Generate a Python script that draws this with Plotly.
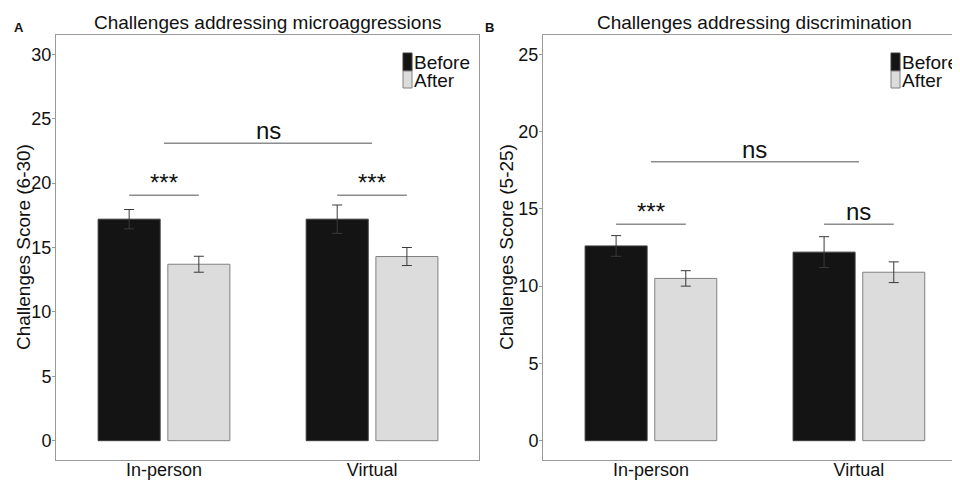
import plotly.graph_objects as go

# ---------------- data ----------------
conditions = ["In-person", "Virtual"]
groups = ["Before", "After"]

micro_before = [17.2, 17.2]
micro_before_err = [0.75, 1.1]
micro_after = [13.7, 14.3]
micro_after_err = [0.62, 0.7]

disc_before = [12.6, 12.2]
disc_before_err = [0.67, 1.0]
disc_after = [10.5, 10.9]
disc_after_err = [0.5, 0.67]

micro_pair_sig = ["***", "***"]
micro_pair_y = [19.05, 19.05]
micro_between_sig = "ns"
micro_between_y = 23.1

disc_pair_sig = ["***", "ns"]
disc_pair_y = [14.0, 14.0]
disc_between_sig = "ns"
disc_between_y = 18.05

micro_ticks = [0, 5, 10, 15, 20, 25, 30]
disc_ticks = [0, 5, 10, 15, 20, 25]

titles = ["Challenges addressing microaggressions", "Challenges addressing discrimination"]
ytitles = ["Challenges Score (6-30)", "Challenges Score (5-25)"]
panel_labels = ["A", "B"]

# ---------------- style ----------------
# the page body has an 8px default margin, so the figure is placed at (8, 8)
OFF = 8
W, H = 960 - OFF, 480 - OFF
FONT = "Liberation Sans, Arial, sans-serif"
BEFORE_FILL, BEFORE_LINE = "#141414", "#3c3c3c"
AFTER_FILL, AFTER_LINE = "#dcdcdc", "#808080"
ERR_COLOR = "#3a3a3a"
SIG_COLOR = "#8c8c8c"
AXIS_COLOR = "#9a9a9a"
BARGAP = 0.33
BARGROUPGAP = 0.11
half_off = (1 - BARGAP) / 4


def px(x):
    return (x - OFF) / W


def py(y):
    return 1 - (y - OFF) / H


fig = go.Figure()

panels = [
    dict(before=micro_before, be=micro_before_err, after=micro_after, ae=micro_after_err,
         xa="x", ya="y", pair_sig=micro_pair_sig, pair_y=micro_pair_y,
         bsig=micro_between_sig, by=micro_between_y),
    dict(before=disc_before, be=disc_before_err, after=disc_after, ae=disc_after_err,
         xa="x2", ya="y2", pair_sig=disc_pair_sig, pair_y=disc_pair_y,
         bsig=disc_between_sig, by=disc_between_y),
]

shapes = []
annotations = []

for p in panels:
    fig.add_trace(go.Bar(
        x=conditions, y=p["before"], name=groups[0], xaxis=p["xa"], yaxis=p["ya"],
        marker=dict(color=BEFORE_FILL, line=dict(color=BEFORE_LINE, width=1)),
        error_y=dict(type="data", array=p["be"], color=ERR_COLOR, thickness=1, width=5),
        showlegend=False, hoverinfo="skip"))
    fig.add_trace(go.Bar(
        x=conditions, y=p["after"], name=groups[1], xaxis=p["xa"], yaxis=p["ya"],
        marker=dict(color=AFTER_FILL, line=dict(color=AFTER_LINE, width=1)),
        error_y=dict(type="data", array=p["ae"], color=ERR_COLOR, thickness=1, width=5),
        showlegend=False, hoverinfo="skip"))

    # within-condition significance brackets
    for i, (lab, yv) in enumerate(zip(p["pair_sig"], p["pair_y"])):
        shapes.append(dict(type="line", xref=p["xa"], yref=p["ya"],
                           x0=i - half_off, x1=i + half_off, y0=yv, y1=yv,
                           line=dict(color=SIG_COLOR, width=1.5)))
        annotations.append(dict(text=lab, xref=p["xa"], yref=p["ya"], x=i, y=yv,
                                xanchor="center", yanchor="bottom", yshift=-3,
                                showarrow=False, font=dict(size=24, color="#111", family=FONT)))
    # between-condition bracket
    shapes.append(dict(type="line", xref=p["xa"], yref=p["ya"],
                       x0=0, x1=len(conditions) - 1, y0=p["by"], y1=p["by"],
                       line=dict(color=SIG_COLOR, width=1.5)))
    annotations.append(dict(text=p["bsig"], xref=p["xa"], yref=p["ya"],
                            x=(len(conditions) - 1) / 2, y=p["by"],
                            xanchor="center", yanchor="bottom", yshift=-3,
                            showarrow=False, font=dict(size=24, color="#111", family=FONT)))

# panel geometry (pixels in the 960x480 view)
dom_x = [(56, 479), (543, 960)]
dom_y = (35, 460)
title_cx = [267.5, 754.5]
ytitle_cx = [23, 506]
label_cx = [19, 489]
legend_kx = [403, 891]

for k in range(2):
    annotations.append(dict(text=titles[k], xref="paper", yref="paper",
                            x=px(title_cx[k]), y=py(22), xanchor="center", yanchor="middle",
                            showarrow=False, font=dict(size=19, color="#111", family=FONT)))
    annotations.append(dict(text=ytitles[k], xref="paper", yref="paper", textangle=-90,
                            x=px(ytitle_cx[k]), y=py(247), xanchor="center", yanchor="middle",
                            showarrow=False, font=dict(size=19, color="#111", family=FONT)))
    annotations.append(dict(text="<b>" + panel_labels[k] + "</b>", xref="paper", yref="paper",
                            x=px(label_cx[k]), y=py(27), xanchor="center", yanchor="middle",
                            showarrow=False, font=dict(size=13, color="#111", family=FONT)))
    # legend keys
    kx = legend_kx[k]
    shapes.append(dict(type="rect", xref="paper", yref="paper",
                       x0=px(kx), x1=px(kx + 9), y0=py(53), y1=py(71),
                       fillcolor=BEFORE_FILL, line=dict(color=BEFORE_LINE, width=1)))
    shapes.append(dict(type="rect", xref="paper", yref="paper",
                       x0=px(kx), x1=px(kx + 9), y0=py(71), y1=py(88),
                       fillcolor=AFTER_FILL, line=dict(color=AFTER_LINE, width=1)))
    for g, yc in zip(groups, [62, 80]):
        annotations.append(dict(text=g, xref="paper", yref="paper",
                                x=px(kx + 9), y=py(yc), xanchor="left", yanchor="middle",
                                showarrow=False, font=dict(size=19, color="#111", family=FONT)))

xcommon = dict(type="category", categoryorder="array", categoryarray=conditions,
               showline=True, linecolor=AXIS_COLOR, linewidth=1, mirror=True,
               showgrid=False, zeroline=False, ticks="", automargin=False,
               ticklabelstandoff=-7,
               tickfont=dict(size=18, color="#111", family=FONT), fixedrange=True)
ycommon = dict(showline=True, linecolor=AXIS_COLOR, linewidth=1,
               showgrid=False, zeroline=False, ticks="outside", ticklen=3,
               tickcolor=AXIS_COLOR, automargin=False, ticklabelstandoff=-3,
               tickfont=dict(size=18, color="#111", family=FONT), fixedrange=True)

fig.update_layout(
    width=W, height=H,
    margin=dict(l=0, r=0, t=0, b=0),
    paper_bgcolor="white", plot_bgcolor="white",
    barmode="group", bargap=BARGAP, bargroupgap=BARGROUPGAP,
    showlegend=False,
    font=dict(family=FONT, color="#111"),
    xaxis=dict(xcommon, domain=[px(dom_x[0][0]), px(dom_x[0][1])], range=[-0.519, 1.514],
               anchor="y"),
    yaxis=dict(ycommon, domain=[py(dom_y[1]), py(dom_y[0])], range=[-1.5, 31.5],
               tickvals=micro_ticks, mirror=True, anchor="x"),
    xaxis2=dict(xcommon, domain=[px(dom_x[1][0]), 1.0], range=[-0.519, 1.486],
                anchor="y2"),
    yaxis2=dict(ycommon, domain=[py(dom_y[1]), py(dom_y[0])], range=[-1.25, 26.25],
                tickvals=disc_ticks, mirror=False, anchor="x2"),
    shapes=shapes,
    annotations=annotations,
)

fig.write_html("out.html")
